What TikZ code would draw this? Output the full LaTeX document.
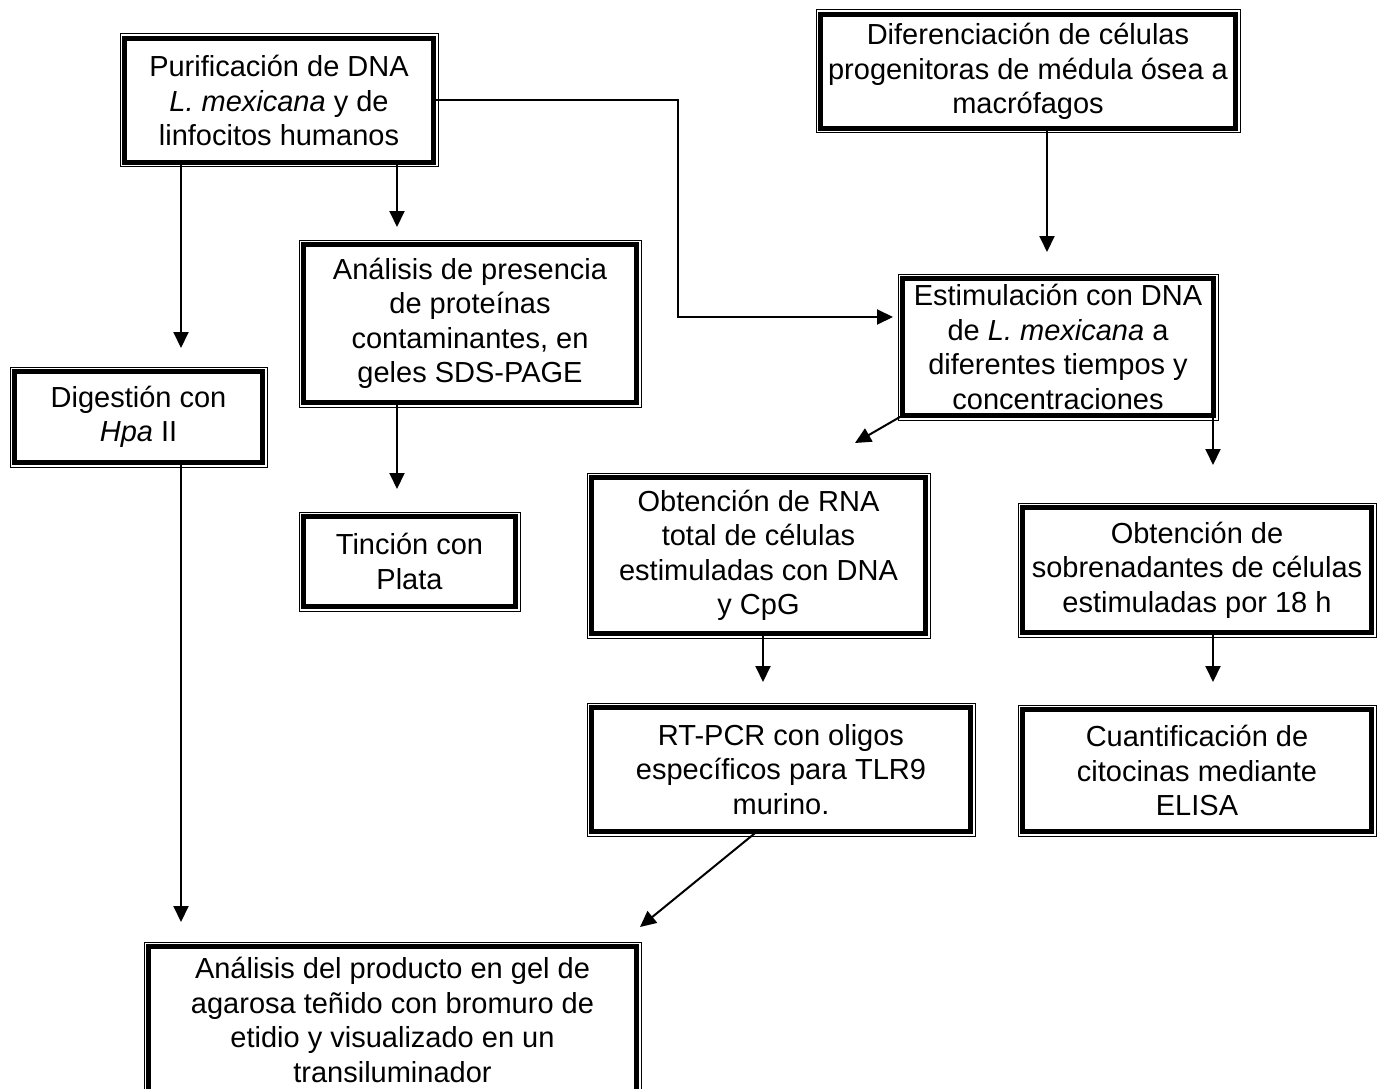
\documentclass[tikz,border=0pt]{standalone}
\usepackage{fontspec}
\setmainfont{Liberation Sans}
\usetikzlibrary{arrows.meta}
\usetikzlibrary{positioning}

\begin{document}
\begin{tikzpicture}[x=1pt, y=-1pt, align=center]

\tikzstyle{procbox} = [rectangle, draw=black, line width=4.5pt, outer sep=0pt, inner sep=2pt, text centered, font=\fontsize{29}{34.5}\selectfont]
\tikzstyle{frame} = [draw=black, line width=1pt]
\tikzstyle{arrow} = [line width=2pt, -{Triangle[length=16pt, width=15pt]}]

\useasboundingbox (0,0) rectangle (1377,1089);

\node (purif) [procbox, minimum width=309pt, minimum height=124pt] at (279,100.5) {Purificación de DNA\\ \textit{L. mexicana} y de\\ linfocitos humanos};
\node (difer) [procbox, minimum width=415pt, minimum height=114pt] at (1028,71.5) {Diferenciación de células\\ progenitoras de médula ósea a\\ macrófagos};
\node (anal) [procbox, minimum width=333pt, minimum height=158pt] at (470,323.5) {Análisis de presencia\\ de proteínas\\ contaminantes, en\\ geles SDS-PAGE};
\node (estim) [procbox, minimum width=311pt, minimum height=137pt] at (1058,347) {Estimulación con DNA\\ de \textit{L. mexicana} a\\ diferentes tiempos y\\ concentraciones};
\node (dig) [procbox, minimum width=248pt, minimum height=91pt] at (138.5,417) {Digestión con\\ \textit{Hpa} II};
\node (tinc) [procbox, minimum width=212pt, minimum height=90pt] at (409.5,561.5) {Tinción con\\ Plata};
\node (rna) [procbox, minimum width=334pt, minimum height=156pt] at (758.5,555.5) {Obtención de RNA\\ total de células\\ estimuladas con DNA\\ y CpG};
\node (sobre) [procbox, minimum width=349pt, minimum height=125pt] at (1197,570) {Obtención de\\ sobrenadantes de células\\ estimuladas por 18 h};
\node (rtpcr) [procbox, minimum width=379pt, minimum height=124pt] at (781,769.5) {RT-PCR con oligos\\ específicos para TLR9\\ murino.};
\node (cuant) [procbox, minimum width=349pt, minimum height=122pt] at (1197,770.5) {Cuantificación de\\ citocinas mediante\\ ELISA};
\node (gel) [procbox, minimum width=488pt, minimum height=147pt] at (392.5,1020) {Análisis del producto en gel de\\ agarosa teñido con bromuro de\\ etidio y visualizado en un\\ transiluminador};

% thin outer line of each box
\foreach \n in {purif,difer,anal,estim,dig,tinc,rna,sobre,rtpcr,cuant,gel}
  \draw [frame] ([shift={(-4.5pt,-4.5pt)}]\n.south west) rectangle ([shift={(4.5pt,4.5pt)}]\n.north east);

% arrow tips
\coordinate (tdig) at (181,348);
\coordinate (tanal) at (397,227);
\coordinate (testim) at (893,317);
\coordinate (tdifer) at (1047,252);
\coordinate (tgel) at (181,922);
\coordinate (ttinc) at (397,489);
\coordinate (trna) at (855,443);
\coordinate (tsobre) at (1213,465);
\coordinate (trtpcr) at (763,682);
\coordinate (tcuant) at (1213,682);
\coordinate (tgel2) at (640,927);

\draw [arrow] (tdig |- purif.south) -- (tdig);
\draw [arrow] (tanal |- purif.south) -- (tanal);
\draw [arrow] (purif.east) -- (678,100.5) |- (testim);
\draw [arrow] (tdifer |- difer.south) -- (tdifer);
\draw [arrow] (tgel |- dig.south) -- (tgel);
\draw [arrow] (ttinc |- anal.south) -- (ttinc);
\draw [arrow] (estim.south west) -- (trna);
\draw [arrow] (tsobre |- estim.south) -- (tsobre);
\draw [arrow] (trtpcr |- rna.south) -- (trtpcr);
\draw [arrow] (tcuant |- sobre.south) -- (tcuant);
\draw [arrow] ([xshift=-24pt]rtpcr.south) -- (tgel2);
\end{tikzpicture}
\end{document}
